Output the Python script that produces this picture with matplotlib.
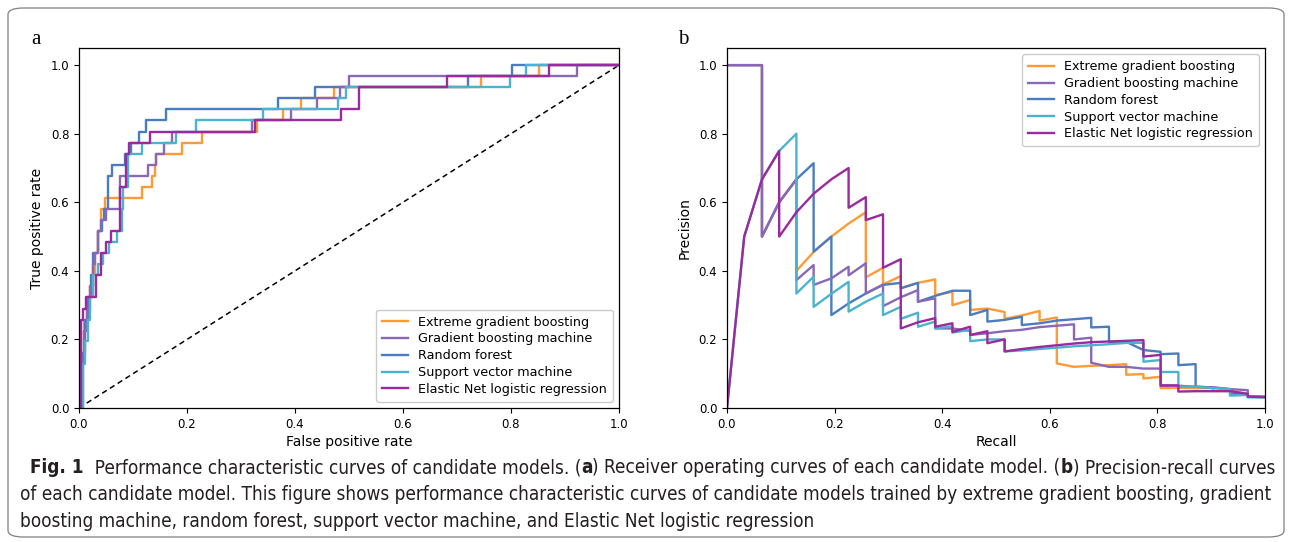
import matplotlib
matplotlib.use('Agg')
import matplotlib.pyplot as plt
from matplotlib.patches import FancyBboxPatch
from matplotlib import font_manager

# ---------------- data ----------------
model_names = ["Extreme gradient boosting", "Gradient boosting machine", "Random forest",
               "Support vector machine", "Elastic Net logistic regression"]
model_colors = ["#FF9A35", "#8A68B8", "#4A7CC0", "#4CB3CF", "#9A2A9E"]

roc_ticks = [0.0, 0.2, 0.4, 0.6, 0.8, 1.0]

# ROC: fpr where the tpr steps up to the given level
xgb_fpr = [0, 0.005, 0.010, 0.015, 0.020, 0.025, 0.030, 0.035, 0.040, 0.048, 0.116, 0.136, 0.140,
           0.143, 0.190, 0.227, 0.330, 0.378, 0.412, 0.473, 0.744, 0.851, 1.0]
xgb_tpr = [0, 0.161, 0.258, 0.323, 0.355, 0.387, 0.452, 0.516, 0.581, 0.613, 0.645, 0.677, 0.710,
           0.742, 0.774, 0.806, 0.839, 0.871, 0.903, 0.935, 0.968, 1.0, 1.0]

gbm_fpr = [0, 0.006, 0.010, 0.014, 0.020, 0.025, 0.030, 0.035, 0.040, 0.050, 0.075, 0.127, 0.142,
           0.158, 0.172, 0.320, 0.392, 0.440, 0.483, 0.500, 0.922, 1.0]
gbm_tpr = [0, 0.161, 0.226, 0.290, 0.355, 0.419, 0.452, 0.516, 0.548, 0.581, 0.677, 0.710, 0.742,
           0.774, 0.806, 0.839, 0.871, 0.903, 0.935, 0.968, 1.0, 1.0]

rf_fpr = [0, 0.008, 0.012, 0.016, 0.022, 0.025, 0.035, 0.042, 0.047, 0.054, 0.062, 0.085, 0.097,
          0.112, 0.124, 0.162, 0.369, 0.437, 0.721, 0.802, 1.0]
rf_tpr = [0, 0.161, 0.258, 0.323, 0.387, 0.452, 0.516, 0.548, 0.581, 0.677, 0.710, 0.742, 0.774,
          0.806, 0.839, 0.871, 0.903, 0.935, 0.968, 1.0, 1.0]

svm_fpr = [0, 0.008, 0.012, 0.016, 0.020, 0.025, 0.035, 0.045, 0.055, 0.070, 0.080, 0.082, 0.091,
           0.116, 0.180, 0.216, 0.341, 0.480, 0.494, 0.798, 0.827, 1.0]
svm_tpr = [0, 0.129, 0.194, 0.258, 0.323, 0.387, 0.419, 0.452, 0.484, 0.516, 0.581, 0.645, 0.742,
           0.774, 0.806, 0.839, 0.871, 0.903, 0.935, 0.968, 1.0, 1.0]

enet_fpr = [0, 0.004, 0.008, 0.013, 0.031, 0.040, 0.050, 0.060, 0.076, 0.087, 0.093, 0.131, 0.326,
            0.485, 0.519, 0.682, 0.870, 1.0]
enet_tpr = [0, 0.258, 0.290, 0.323, 0.387, 0.452, 0.484, 0.516, 0.645, 0.742, 0.774, 0.806, 0.839,
            0.871, 0.935, 0.968, 1.0, 1.0]

# Precision-recall vertices
xgb_recall = [0, 0.032, 0.065, 0.065, 0.097, 0.129, 0.129, 0.161, 0.194, 0.226, 0.258, 0.258, 0.290,
              0.290, 0.323, 0.323, 0.355, 0.387, 0.387, 0.419, 0.419, 0.452, 0.452, 0.484, 0.516,
              0.516, 0.548, 0.581, 0.581, 0.613, 0.613, 0.645, 0.677, 0.710, 0.742, 0.742, 0.774,
              0.774, 0.806, 0.806, 0.839, 0.871, 0.903, 0.903, 0.935, 0.968, 0.968, 1.0]
xgb_precision = [1.0, 1.0, 1.0, 0.5, 0.6, 0.667, 0.40, 0.455, 0.50, 0.538, 0.571, 0.381, 0.409,
                 0.36, 0.385, 0.35, 0.365, 0.375, 0.329, 0.339, 0.30, 0.315, 0.286, 0.29, 0.28,
                 0.26, 0.27, 0.283, 0.255, 0.264, 0.13, 0.12, 0.123, 0.125, 0.128, 0.097, 0.099,
                 0.086, 0.091, 0.058, 0.059, 0.058, 0.058, 0.05, 0.05, 0.042, 0.033, 0.031]

gbm_recall = [0, 0.032, 0.065, 0.065, 0.097, 0.129, 0.129, 0.161, 0.161, 0.194, 0.226, 0.226, 0.258,
              0.258, 0.290, 0.290, 0.323, 0.355, 0.355, 0.387, 0.387, 0.419, 0.452, 0.452, 0.484,
              0.516, 0.548, 0.581, 0.613, 0.645, 0.645, 0.677, 0.677, 0.710, 0.742, 0.774, 0.806,
              0.806, 0.839, 0.871, 0.903, 0.935, 0.968, 0.968, 1.0]
gbm_precision = [1.0, 1.0, 1.0, 0.5, 0.6, 0.667, 0.373, 0.417, 0.359, 0.378, 0.412, 0.387, 0.422,
                 0.334, 0.36, 0.297, 0.323, 0.344, 0.31, 0.32, 0.232, 0.232, 0.225, 0.213, 0.218,
                 0.224, 0.228, 0.236, 0.240, 0.244, 0.20, 0.205, 0.132, 0.12, 0.12, 0.115, 0.115,
                 0.067, 0.065, 0.062, 0.06, 0.055, 0.052, 0.034, 0.033]

rf_recall = [0, 0.032, 0.065, 0.065, 0.097, 0.129, 0.161, 0.161, 0.194, 0.194, 0.226, 0.258, 0.290,
             0.323, 0.323, 0.355, 0.355, 0.387, 0.419, 0.452, 0.452, 0.484, 0.484, 0.516, 0.548,
             0.548, 0.581, 0.613, 0.645, 0.677, 0.677, 0.710, 0.710, 0.742, 0.774, 0.806, 0.806,
             0.839, 0.839, 0.871, 0.871, 0.903, 0.935, 0.935, 0.968, 0.968, 1.0]
rf_precision = [1.0, 1.0, 1.0, 0.5, 0.6, 0.667, 0.714, 0.456, 0.50, 0.271, 0.305, 0.334, 0.359,
                0.365, 0.349, 0.365, 0.31, 0.327, 0.342, 0.342, 0.271, 0.286, 0.252, 0.257, 0.266,
                0.242, 0.247, 0.255, 0.259, 0.263, 0.235, 0.237, 0.193, 0.193, 0.169, 0.164, 0.157,
                0.159, 0.125, 0.128, 0.062, 0.06, 0.055, 0.041, 0.041, 0.033, 0.032]

svm_recall = [0, 0.032, 0.065, 0.097, 0.129, 0.129, 0.161, 0.161, 0.194, 0.226, 0.226, 0.258, 0.290,
              0.290, 0.323, 0.323, 0.355, 0.355, 0.387, 0.387, 0.419, 0.419, 0.452, 0.452, 0.484,
              0.516, 0.516, 0.548, 0.581, 0.613, 0.645, 0.677, 0.710, 0.742, 0.774, 0.774, 0.806,
              0.806, 0.839, 0.839, 0.871, 0.903, 0.935, 0.935, 0.968, 0.968, 1.0]
svm_precision = [0, 0.5, 0.667, 0.75, 0.80, 0.334, 0.383, 0.295, 0.333, 0.368, 0.281, 0.31, 0.334,
                 0.271, 0.295, 0.26, 0.278, 0.237, 0.252, 0.232, 0.238, 0.22, 0.228, 0.195, 0.20,
                 0.20, 0.165, 0.168, 0.172, 0.176, 0.18, 0.183, 0.186, 0.19, 0.19, 0.135, 0.14,
                 0.105, 0.105, 0.062, 0.062, 0.058, 0.055, 0.036, 0.038, 0.031, 0.031]

enet_recall = [0, 0.032, 0.065, 0.097, 0.097, 0.129, 0.161, 0.194, 0.226, 0.226, 0.258, 0.258, 0.290,
               0.290, 0.323, 0.323, 0.355, 0.387, 0.387, 0.419, 0.419, 0.452, 0.452, 0.484, 0.484,
               0.516, 0.516, 0.548, 0.581, 0.613, 0.645, 0.677, 0.710, 0.742, 0.774, 0.774, 0.806,
               0.806, 0.839, 0.839, 0.871, 0.903, 0.935, 0.968, 0.968, 1.0]
enet_precision = [0, 0.5, 0.667, 0.75, 0.5, 0.571, 0.625, 0.667, 0.70, 0.584, 0.615, 0.548, 0.565,
                  0.409, 0.434, 0.232, 0.25, 0.262, 0.237, 0.247, 0.222, 0.237, 0.213, 0.224, 0.189,
                  0.20, 0.165, 0.172, 0.178, 0.183, 0.188, 0.192, 0.194, 0.196, 0.198, 0.150, 0.155,
                  0.065, 0.066, 0.048, 0.049, 0.049, 0.049, 0.041, 0.033, 0.032]

roc_data = [(xgb_fpr, xgb_tpr), (gbm_fpr, gbm_tpr), (rf_fpr, rf_tpr), (svm_fpr, svm_tpr),
            (enet_fpr, enet_tpr)]
pr_data = [(xgb_recall, xgb_precision), (gbm_recall, gbm_precision), (rf_recall, rf_precision),
           (svm_recall, svm_precision), (enet_recall, enet_precision)]
zorders = [2.0, 2.2, 2.1, 2.3, 2.4]

caption_line1 = [("Fig. 1", True), ("  Performance characteristic curves of candidate models. (", False),
                 ("a", True), (") Receiver operating curves of each candidate model. (", False),
                 ("b", True), (") Precision-recall curves", False)]
caption_line2 = "of each candidate model. This figure shows performance characteristic curves of candidate models trained by extreme gradient boosting, gradient"
caption_line3 = "boosting machine, random forest, support vector machine, and Elastic Net logistic regression"

# ---------------- figure ----------------
W, H = 1292, 542
fig = plt.figure(figsize=(W / 100, H / 100), dpi=100)
fig.patch.set_facecolor('white')


def fx(px):
    return px / W


def fy(py):
    return 1 - py / H


# outer rounded frame
frame = FancyBboxPatch((fx(8), fy(537)), fx(1284) - fx(8), fy(8) - fy(537),
                       boxstyle="round,pad=0,rounding_size=0.012",
                       transform=fig.transFigure, facecolor='none', edgecolor='#808080',
                       linewidth=0.9, zorder=0)
fig.patches.append(frame)

ax1 = fig.add_axes([fx(79), fy(408), fx(619) - fx(79), fy(48) - fy(408)])
ax2 = fig.add_axes([fx(727), fy(408), fx(1265) - fx(727), fy(48) - fy(408)])

for (fpr, tpr), name, col, z in zip(roc_data, model_names, model_colors, zorders):
    ax1.step(fpr, tpr, where='post', color=col, lw=1.7, label=name, zorder=z)
ax1.plot([0, 1], [0, 1], color='black', lw=1.1, ls=(0, (3.5, 2.5)), zorder=1.5)

for (rec, prec), name, col, z in zip(pr_data, model_names, model_colors, zorders):
    ax2.plot(rec, prec, color=col, lw=1.7, label=name, zorder=z)

for ax in (ax1, ax2):
    ax.set_xlim(0, 1)
    ax.set_ylim(0, 1.05)
    ax.set_xticks(roc_ticks)
    ax.set_yticks(roc_ticks)
    ax.tick_params(labelsize=8.5, length=3.5, width=0.8)
    for sp in ax.spines.values():
        sp.set_linewidth(0.9)

ax1.set_xlabel("False positive rate", fontsize=10, labelpad=3)
ax1.set_ylabel("True positive rate", fontsize=10, labelpad=5)
ax2.set_xlabel("Recall", fontsize=10, labelpad=3)
ax2.set_ylabel("Precision", fontsize=10, labelpad=5)

leg_kw = dict(fontsize=9.2, frameon=True, fancybox=True, framealpha=1, edgecolor='#cccccc',
              handlelength=2.0, labelspacing=0.3, borderpad=0.45)
ax1.legend(loc='lower right', **leg_kw)
ax2.legend(loc='upper right', **leg_kw)

# panel letters
fig.text(fx(31), fy(44), "a", fontsize=15, family=['Liberation Serif', 'DejaVu Serif'], va='baseline')
fig.text(fx(678), fy(44), "b", fontsize=15, family=['Liberation Serif', 'DejaVu Serif'], va='baseline')

# caption: prefer a condensed sans if available
cap_family = ['DejaVu Sans']
cap_stretch = 'normal'
available = {f.name for f in font_manager.fontManager.ttflist}
cond = [f for f in font_manager.fontManager.ttflist
        if f.name == 'DejaVu Sans' and str(f.stretch) in ('condensed', 'semi-condensed', '500', '400')
        and 'ondensed' in f.fname]
if 'Liberation Sans Narrow' in available:
    cap_family = ['Liberation Sans Narrow', 'DejaVu Sans']
elif cond:
    cap_stretch = 'condensed'
elif 'Liberation Sans' in available:
    cap_family = ['Liberation Sans', 'DejaVu Sans']
cap_color = '#231f20'
renderer = fig.canvas.get_renderer()
probe = fig.text(0, 0, caption_line2, fontsize=10, family=cap_family, fontstretch=cap_stretch)
pw = probe.get_window_extent(renderer).width
probe.remove()
cap_size = 10 * (1276 - 20) / pw


def draw_segments(x_px, y_px, segs):
    x = x_px
    for s, bold in segs:
        t = fig.text(fx(x), fy(y_px), s, fontsize=cap_size, family=cap_family, fontstretch=cap_stretch,
                     fontweight='bold' if bold else 'normal', va='baseline', ha='left', color=cap_color)
        x += t.get_window_extent(renderer).width


draw_segments(30, 473, caption_line1)
fig.text(fx(20), fy(500), caption_line2, fontsize=cap_size, family=cap_family, fontstretch=cap_stretch,
         va='baseline', color=cap_color)
fig.text(fx(20), fy(527), caption_line3, fontsize=cap_size, family=cap_family, fontstretch=cap_stretch,
         va='baseline', color=cap_color)

fig.savefig("out.png", dpi=100)
